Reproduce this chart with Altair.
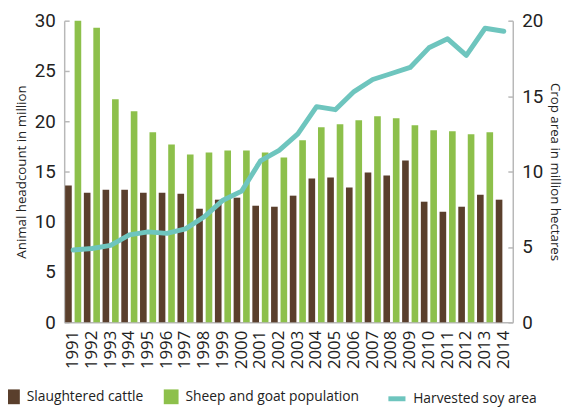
import altair as alt
import pandas as pd

years = [str(y) for y in [1991, 1992, 1993, 1994, 1995, 1996, 1997, 1998, 1999, 2000, 2001, 2002,
                          2003, 2004, 2005, 2006, 2007, 2008, 2009, 2010, 2011, 2012, 2013, 2014]]
cattle = [13.6, 12.9, 13.2, 13.2, 12.9, 12.9, 12.8, 11.3, 12.2, 12.4, 11.6, 11.5,
          12.6, 14.3, 14.4, 13.4, 14.9, 14.6, 16.1, 12.0, 11.0, 11.5, 12.7, 12.2]
sheep = [30.0, 29.3, 22.2, 21.0, 18.9, 17.7, 16.7, 16.9, 17.1, 17.1, 16.9, 16.4,
         18.1, 19.4, 19.7, 20.1, 20.5, 20.3, 19.6, 19.1, 19.0, 18.7, 18.9, None]
soy = [4.8, 4.9, 5.1, 5.8, 6.0, 5.9, 6.2, 7.0, 8.1, 8.7, 10.7, 11.4,
       12.5, 14.3, 14.1, 15.3, 16.1, 16.5, 16.9, 18.2, 18.8, 17.7, 19.5, 19.3]

series_bars = ["Slaughtered cattle", "Sheep and goat population"]
series_line = ["Harvested soy area"]

rows = []
for y, c, s in zip(years, cattle, sheep):
    rows.append({"year": y, "series": series_bars[0], "value": c})
    if s is not None:
        rows.append({"year": y, "series": series_bars[1], "value": s})
bars_df = pd.DataFrame(rows)
line_df = pd.DataFrame({"year": years, "series": series_line[0], "value": soy})

BROWN = "#5a3f2c"
GREEN = "#8dc04b"
TEAL = "#6ec5be"
AXIS_GRAY = "#b8b8b8"
TXT = "#222222"
NUM_FONT = "Liberation Sans Narrow, Arial Narrow, Roboto, sans-serif"
TXT_FONT = "Open Sans, sans-serif"

W, H = 455, 306

xscale = alt.Scale(type="band", domain=years, paddingInner=0.14, paddingOuter=0.05)
xaxis = alt.Axis(title=None, labelAngle=270, labelFont=TXT_FONT, labelFontSize=17,
                 labelColor=TXT, labelPadding=8, ticks=False, domainColor=AXIS_GRAY,
                 domainWidth=1.5)

bars = alt.Chart(bars_df).mark_bar().encode(
    x=alt.X("year:N", scale=xscale, axis=xaxis),
    xOffset=alt.XOffset("series:N", scale=alt.Scale(domain=series_bars, paddingInner=0.3)),
    y=alt.Y("value:Q", scale=alt.Scale(domain=[0, 30], nice=False),
            axis=alt.Axis(orient="left", title="Animal headcount in million", values=[0, 5, 10, 15, 20, 25, 30],
                          ticks=False, grid=False, domainColor=AXIS_GRAY, domainWidth=1.5,
                          labelFont=NUM_FONT, labelFontSize=19, labelColor=TXT, labelPadding=9,
                          titleFont=TXT_FONT, titleFontSize=13.5, titleFontWeight="normal",
                          titleColor=TXT, titlePadding=6)),
    color=alt.Color("series:N", scale=alt.Scale(domain=series_bars, range=[BROWN, GREEN]),
                    legend=alt.Legend(orient="none", legendX=-60, legendY=374, direction="horizontal",
                                      title=None, symbolType="square", symbolSize=225,
                                      symbolStrokeWidth=0, labelFont=TXT_FONT, labelFontSize=14,
                                      labelColor=TXT, labelOffset=7, columnPadding=20,
                                      labelLimit=400)),
)

left_ticks = alt.Chart(bars_df).mark_bar(opacity=0).encode(
    x=alt.X("year:N", scale=xscale, axis=xaxis),
    y=alt.Y("value:Q", scale=alt.Scale(domain=[0, 30], nice=False),
            axis=alt.Axis(orient="right", offset=-W, title=None, labels=False, domain=False,
                          values=[0, 5, 10, 15, 20, 25, 30], tickSize=5, tickColor=AXIS_GRAY,
                          tickWidth=1.5, grid=False)),
)

line = alt.Chart(line_df).mark_line(strokeWidth=5, strokeCap="round", strokeJoin="round").encode(
    x=alt.X("year:N", scale=xscale, axis=xaxis),
    y=alt.Y("value:Q", scale=alt.Scale(domain=[0, 20], nice=False),
            axis=alt.Axis(orient="right", title="Crop area in million hectares", values=[0, 5, 10, 15, 20],
                          ticks=False, grid=False, domainColor=AXIS_GRAY, domainWidth=1.5,
                          labelFont=NUM_FONT, labelFontSize=19, labelColor=TXT, labelPadding=9,
                          titleFont=TXT_FONT, titleFontSize=13.5, titleFontWeight="normal",
                          titleColor=TXT, titlePadding=5)),
    stroke=alt.Stroke("series:N", scale=alt.Scale(domain=series_line, range=[TEAL]),
                      legend=alt.Legend(orient="none", legendX=326, legendY=372, title=None,
                                        symbolType="stroke", symbolStrokeWidth=5, symbolSize=300,
                                        labelFont=TXT_FONT, labelFontSize=14, labelColor=TXT,
                                        labelOffset=5, labelLimit=400)),
)

right_ticks = alt.Chart(line_df).mark_line(opacity=0).encode(
    x=alt.X("year:N", scale=xscale, axis=xaxis),
    y=alt.Y("value:Q", scale=alt.Scale(domain=[0, 20], nice=False),
            axis=alt.Axis(orient="left", offset=-W, title=None, labels=False, domain=False,
                          values=[0, 5, 10, 15, 20], tickSize=5, tickColor=AXIS_GRAY,
                          tickWidth=1.5, grid=False)),
)

chart = alt.layer(bars, left_ticks, line, right_ticks).resolve_scale(
    y="independent"
).properties(
    width=W, height=H,
    autosize=alt.AutoSizeParams(type="none"),
    padding={"left": 57, "top": 10, "right": 55, "bottom": 85},
).configure_view(stroke=None)

chart.save("out.html", embed_options={"renderer": "svg", "actions": False})
